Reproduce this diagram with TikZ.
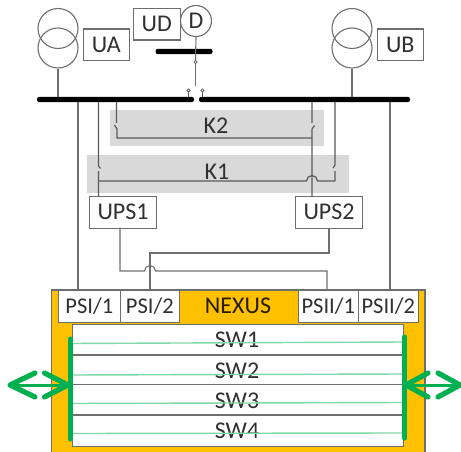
\documentclass[tikz,border=0pt]{standalone}
\usepackage{fontspec}
\setmainfont{Carlito}
\definecolor{ln}{HTML}{6E6E6E}
\definecolor{dk}{HTML}{5A5A5A}
\definecolor{gbar}{HTML}{00B050}
\definecolor{lg}{HTML}{7FD8A8}
\definecolor{nx}{HTML}{FFC000}
\definecolor{kk}{HTML}{D9D9D9}
\definecolor{tx}{HTML}{303030}
\tikzset{
  lbl/.style={text=tx,font=\fontsize{24}{26}\selectfont,inner sep=0pt},
  boxn/.style={draw=ln,line width=1.1pt,fill=white,text=tx,font=\fontsize{24}{26}\selectfont,inner sep=0pt,anchor=north west},
  psi/.style={boxn,font=\fontsize{22.5}{26}\selectfont},
  bar/.style={fill=black,rounded corners=2.4pt,inner sep=0pt,minimum height=5.4pt},
  wire/.style={draw=ln,line width=1.1pt},
  dwire/.style={draw=dk,line width=1.2pt},
  coil/.style={circle,draw=ln,line width=1.1pt,minimum size=40pt,inner sep=0pt},
  contact/.style={circle,draw=dk,line width=.8pt,minimum size=3.2pt,inner sep=0pt},
  band/.style={fill=kk,inner sep=0pt,anchor=north west},
  sline/.style={draw=ln,line width=1.3pt},
  gline/.style={draw=lg,line width=1.4pt},
  gthick/.style={draw=gbar,line width=5pt,line cap=round},
  gshaft/.style={draw=gbar,line width=3pt},
  gchev/.style={draw=gbar,line width=5.2pt,line cap=round,line join=round},
}
\begin{document}
\begin{tikzpicture}[x=1pt,y=-1pt]
\useasboundingbox (0,0) rectangle (461,452);
% gray bands
\node[band,minimum width=214pt,minimum height=36pt] (bK2) at (110,110) {};
\node[band,minimum width=262pt,minimum height=38pt] (bK1) at (87,155) {};
\node[lbl] (K2) at (216,126) {K2};
\node[lbl] (K1) at (217,172) {K1};
% busbars
\node[bar,minimum width=157pt] (busL) at (115.5,99.5) {};
\node[bar,minimum width=211pt] (busR) at (304.5,99.5) {};
\node[bar,minimum width=57pt] (busD) at (184,51.5) {};
% transformers
\node[coil] (ta1) at (58,28.5) {};
\node[coil] (ta2) at (58,48) {};
\node[coil] (tb1) at (352,28.5) {};
\node[coil] (tb2) at (352,48) {};
\draw[wire] (ta2.south) -- (ta2.south |- busL.north);
\draw[wire] (tb2.south) -- (tb2.south |- busR.north);
\node[boxn,minimum width=46.5pt,minimum height=31.5pt] (UA) at (82.5,28.5) {UA};
\node[boxn,minimum width=46.5pt,minimum height=31.5pt] (UB) at (376.5,28.5) {UB};
\node[boxn,minimum width=46.5pt,minimum height=31.5pt] (UD) at (133,8) {UD};
\node[circle,draw=ln,line width=1.1pt,fill=white,minimum size=31pt,inner sep=0pt,text=tx,font=\fontsize{24}{26}\selectfont] (D) at (196,21) {D};
% D feeder and coupler
\node[contact] (c0) at (195.5,62) {};
\coordinate (c0end) at (195.5,86);
\draw[wire] (D.south) -- (c0.north);
\draw[wire] (c0.south) -- (c0end);
\node[contact] (c1) at (188.5,90.5) {};
\node[contact] (c2) at (202.5,90.5) {};
\draw[dwire] (c1.south) -- (c1.south |- busL.north);
\draw[dwire] (c2.south) -- (c2.south |- busR.north);
% UPS boxes
\node[boxn,minimum width=67pt,minimum height=31.5pt] (UPSa) at (89,196) {UPS1};
\node[boxn,minimum width=67pt,minimum height=31.5pt] (UPSb) at (295,196) {UPS2};
% Nexus
\fill[nx] (51.5,290) rectangle (425,452);
\draw[draw=ln,line width=1.3pt] (51.5,452) -- (51.5,290) -- (425,290) -- (425,452);
\node[lbl,text=black!85!nx] (NX) at (238,306) {NEXUS};
\node[psi,minimum width=61.5pt,minimum height=32pt] (P1) at (58,290) {PSI/1};
\node[psi,minimum width=59.5pt,minimum height=32pt] (P2) at (119.5,290) {PSI/2};
\node[psi,minimum width=59.5pt,minimum height=32pt] (P3) at (298,290) {PSII/1};
\node[psi,minimum width=60.5pt,minimum height=32pt] (P4) at (357.5,290) {PSII/2};
\node[draw=ln,line width=1.3pt,fill=white,inner sep=0pt,anchor=north west,minimum width=331pt,minimum height=122pt] (SW) at (72,324) {};
% SW separators
\coordinate (s1a) at (72,355); \coordinate (s1b) at (403,355);
\coordinate (s2a) at (72,384.5); \coordinate (s2b) at (403,384.5);
\coordinate (s3a) at (72,415); \coordinate (s3b) at (403,415);
\draw[sline] (s1a) -- (s1b);
\draw[sline] (s2a) -- (s2b);
\draw[sline] (s3a) -- (s3b);
\node[lbl] (SW1) at (237,340) {SW1};
\node[lbl] (SW2) at (237,371) {SW2};
\node[lbl] (SW3) at (237,401) {SW3};
\node[lbl] (SW4) at (237,431) {SW4};
% green bars
\coordinate (gL1) at (70,339); \coordinate (gL2) at (70,439);
\coordinate (gR1) at (404.5,337); \coordinate (gR2) at (404.5,438);
\draw[gline] (70,343.5) -- (404.5,342);
\draw[gline] (70,375) -- (404.5,374);
\draw[gline] (70,403.5) -- (404.5,402.5);
\draw[gline] (70,433.5) -- (404.5,433);
\draw[gthick] (gL1) -- (gL2);
\draw[gthick] (gR1) -- (gR2);
% arrows
\coordinate (aL1) at (10,385); \coordinate (aL2) at (68,385);
\draw[gshaft] (aL1) -- (aL2);
\draw[gchev] (35,373) -- (aL1) -- (35,397);
\draw[gchev] (44.5,373) -- (aL2) -- (44.5,397);
\coordinate (aR1) at (406,385); \coordinate (aR2) at (460,385);
\draw[gshaft] (aR1) -- (aR2);
\draw[gchev] (428,373) -- (aR1) -- (428,397);
\draw[gchev] (438,373) -- (aR2) -- (438,397);
% feeders to PSUs
\draw[wire] (78,102) -- (78,290);
\draw[wire] (390,102) -- (390,290);
% K1 branch
\coordinate (k1a) at (98.5,181); \coordinate (k1b) at (335,181);
\draw[dwire] (98.5,102) -- (98.5,166) -- (100.5,168.5) (98.5,171) -- (98.5,196);
\draw[dwire] (k1a) -- (306.5,181) arc[start angle=180,end angle=0,radius=5.5pt] -- (k1b);
\draw[dwire] (k1b) -- (335,171) (333,168) -- (335,165) -- (335,102);
% K2 branch
\coordinate (k2a) at (117,138); \coordinate (k2b) at (312,138);
\draw[dwire] (116.5,102) -- (116.5,123) (114.5,125) -- (117,129) -- (k2a) -- (k2b);
\draw[dwire] (312,102) -- (312,123) (314.5,125.5) -- (312,129) -- (312,196);
% UPS outputs
\draw[wire] (120,227.5) -- (120,271) -- (144.5,271) arc[start angle=180,end angle=0,radius=5.5pt] -- (327,271) -- (327,290);
\draw[wire] (329,227.5) -- (329,253) -- (150,253) -- (150,290);
\end{tikzpicture}
\end{document}
